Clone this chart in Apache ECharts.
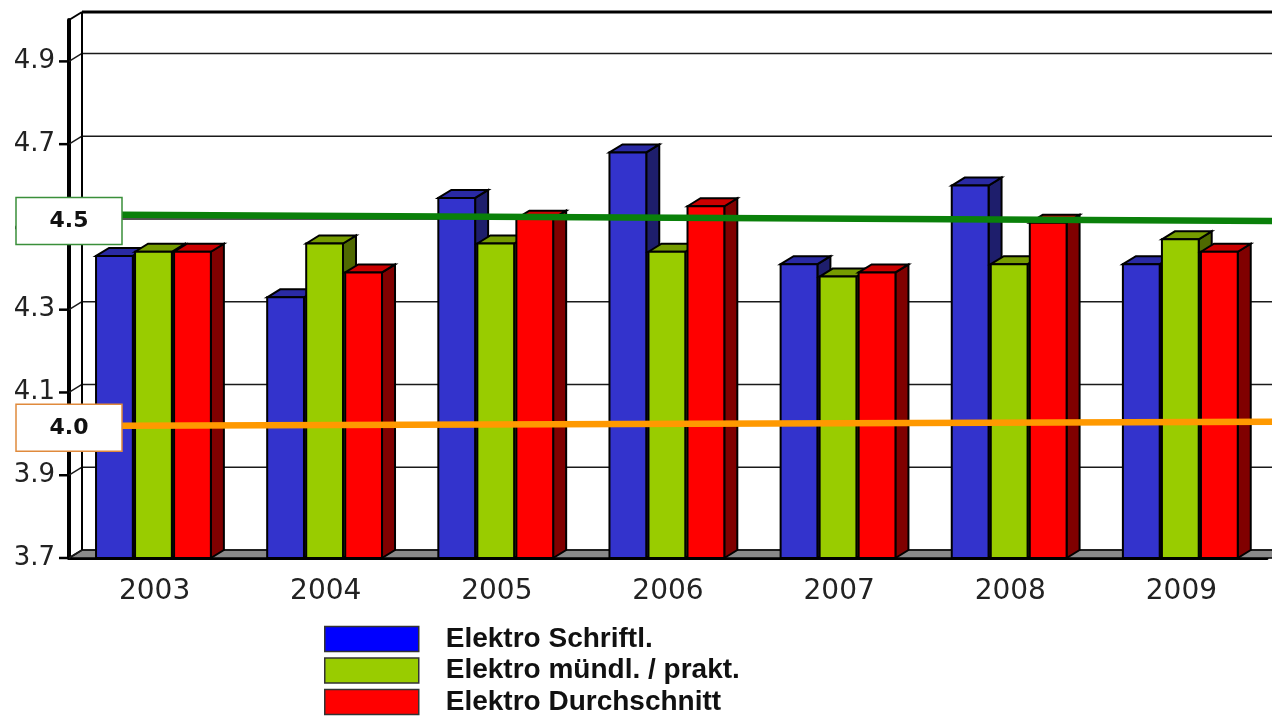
<!DOCTYPE html>
<html>
<head>
<meta charset="utf-8">
<script src="https://cdn.jsdelivr.net/npm/echarts@6/dist/echarts.min.js"></script>
<style>
html,body{margin:0;padding:0;background:#fff}
#chart{width:1272px;height:720px}
</style>
</head>
<body>
<div id="chart"></div>
<script>
// values
var years = ['2003', '2004', '2005', '2006', '2007', '2008', '2009'];
var schriftl = [4.43, 4.33, 4.57, 4.68, 4.41, 4.60, 4.41];
var muendl = [4.44, 4.46, 4.46, 4.44, 4.38, 4.41, 4.47];
var schnitt = [4.44, 4.39, 4.52, 4.55, 4.39, 4.51, 4.44];
var seriesNames = ['Elektro Schriftl.', 'Elektro mündl. / prakt.', 'Elektro Durchschnitt'];
var yTicks = [3.7, 3.9, 4.1, 4.3, 4.5, 4.7, 4.9];
var yMin = 3.7, yMax = 5.0;

// the two hand drawn target lines (start / end value, left to right)
var refLabels = ['4.5', '4.0'];
var refValues = [4.5, 4.0];
var refStart = [4.51, 4.00];
var refEnd = [4.495, 4.01];

var DX = 13, DY = -8;   // 3d depth offset
var faces = [
  {front: '#3333cc', top: '#2a2aa4', side: '#1e1e6c', legend: '#0000ff'},
  {front: '#99cc00', top: '#769c00', side: '#4f6900', legend: '#99cc00'},
  {front: '#ff0000', top: '#cc0000', side: '#800000', legend: '#ff0000'}
];
var refColors = [
  {line: '#0a800a', border: '#3a8f3a'},
  {line: '#ff9900', border: '#e08a3c'}
];

function renderWalls(params, api){
  var cs = params.coordSys;
  var gl = cs.x, gr = cs.x + cs.width;
  var yBase = api.coord([0, yMin])[1];
  var yTop = api.coord([0, yMax])[1];
  var kids = [];
  kids.push({type: 'polygon', shape: {points: [[gl, yBase], [gl + DX, yBase + DY], [gr + DX + 20, yBase + DY], [gr + 20, yBase]]},
    style: {fill: '#8a8a8a', stroke: '#000', lineWidth: 1.5}});
  for(var i = 0; i < yTicks.length; i++){
    var y = api.coord([0, yTicks[i]])[1];
    kids.push({type: 'line', shape: {x1: gl + DX, y1: y + DY, x2: gr + DX + 20, y2: y + DY}, style: {stroke: '#1a1a1a', lineWidth: 1.5}});
    kids.push({type: 'line', shape: {x1: gl, y1: y, x2: gl + DX, y2: y + DY}, style: {stroke: '#1a1a1a', lineWidth: 1.5}});
    kids.push({type: 'line', shape: {x1: gl - 10, y1: y, x2: gl, y2: y}, style: {stroke: '#000', lineWidth: 2.5}});
  }
  // top edge and back left edge of the wall
  kids.push({type: 'line', shape: {x1: gl + DX, y1: yTop + DY, x2: gr + DX + 20, y2: yTop + DY}, style: {stroke: '#000', lineWidth: 3}});
  kids.push({type: 'line', shape: {x1: gl, y1: yTop, x2: gl + DX, y2: yTop + DY}, style: {stroke: '#000', lineWidth: 2}});
  kids.push({type: 'line', shape: {x1: gl + DX, y1: yTop + DY, x2: gl + DX, y2: yBase + DY}, style: {stroke: '#000', lineWidth: 2}});
  return {type: 'group', children: kids};
}

function makeBarRender(si){
  return function(params, api){
    var ci = api.value(0), v = api.value(1);
    var base = api.coord([ci, yMin]);
    var top = api.coord([ci, v]);
    var band = api.size([1, 0])[0];
    var w = band * 0.215;
    var x0 = base[0] - band / 2 + band * (0.158 + si * 0.228);
    var yT = top[1], yB = base[1];
    var c = faces[si];
    var st = {stroke: '#000', lineWidth: 2, lineJoin: 'miter'};
    return {type: 'group', children: [
      {type: 'polygon', shape: {points: [[x0 + w, yT], [x0 + w + DX, yT + DY], [x0 + w + DX, yB + DY], [x0 + w, yB]]},
        style: Object.assign({fill: c.side}, st)},
      {type: 'polygon', shape: {points: [[x0, yT], [x0 + DX, yT + DY], [x0 + w + DX, yT + DY], [x0 + w, yT]]},
        style: Object.assign({fill: c.top}, st)},
      {type: 'rect', shape: {x: x0, y: yT, width: w, height: yB - yT},
        style: Object.assign({fill: c.front}, st)}
    ]};
  };
}

function renderRefs(params, api){
  var i = api.value(0);
  var cs = params.coordSys;
  var c = refColors[i];
  var y1 = api.coord([0, refStart[i]])[1] + DY;
  var y2 = api.coord([0, refEnd[i]])[1] + DY;
  var yb = api.coord([0, refValues[i]])[1] + DY + 2;
  var bw = 106, bh = 47;
  return {type: 'group', children: [
    {type: 'line', shape: {x1: cs.x + bw / 2, y1: y1, x2: cs.x + cs.width + DX, y2: y2}, style: {stroke: c.line, lineWidth: 6.5}},
    {type: 'rect', shape: {x: cs.x - bw / 2, y: yb - bh / 2, width: bw, height: bh}, style: {fill: '#fff', stroke: c.border, lineWidth: 1.5}},
    {type: 'text', style: {text: refLabels[i], x: cs.x, y: yb, align: 'center', verticalAlign: 'middle',
      fontFamily: 'DejaVu Sans', fontWeight: 'bold', fontSize: 22, fill: '#111'}}
  ]};
}

function pairs(arr){
  return arr.map(function(v, i){ return [i, v]; });
}

var myChart = echarts.init(document.getElementById('chart'));
var series = [{
  type: 'custom', name: 'walls', silent: true, clip: false,
  renderItem: renderWalls, data: [[0, yMin]], encode: {x: 0, y: 1}
}];
[schriftl, muendl, schnitt].forEach(function(vals, si){
  series.push({
    type: 'custom', name: seriesNames[si], clip: false,
    renderItem: makeBarRender(si), data: pairs(vals), encode: {x: 0, y: 1},
    itemStyle: {color: faces[si].legend}
  });
});
series.push({
  type: 'custom', name: 'refs', silent: true, clip: false,
  renderItem: renderRefs, data: pairs(refValues), encode: {x: 0, y: 1}
});

var option = {
  animation: false,
  backgroundColor: '#fff',
  grid: {left: 69, right: 5, top: 20, bottom: 162, outerBoundsMode: 'none'},
  xAxis: {
    type: 'category', data: years,
    axisLine: {lineStyle: {color: '#000', width: 3}},
    axisTick: {length: 10, lineStyle: {color: '#000', width: 3}},
    axisLabel: {fontFamily: 'DejaVu Sans', fontSize: 28, color: '#222', margin: 20, lineHeight: 28},
    splitLine: {show: false}
  },
  yAxis: {
    type: 'value', min: yMin, max: yMax, interval: 0.1,
    axisLine: {show: true, lineStyle: {color: '#000', width: 4}},
    axisTick: {show: false},
    splitLine: {show: false},
    axisLabel: {
      fontFamily: 'DejaVu Sans', fontSize: 26, color: '#222', margin: 14,
      formatter: function(v){
        for(var i = 0; i < yTicks.length; i++){
          if(Math.abs(v - yTicks[i]) < 1e-6) return yTicks[i].toFixed(1);
        }
        return '';
      }
    }
  },
  legend: {
    orient: 'vertical', left: 324, top: 625, padding: 0,
    itemWidth: 94, itemHeight: 25, itemGap: 3.5, selectedMode: false,
    textStyle: {fontFamily: 'Liberation Sans', fontWeight: 'bold', fontSize: 28, lineHeight: 28, color: '#111', padding: [0, 0, 0, 22]},
    data: seriesNames.map(function(n, i){
      return {name: n, icon: 'rect', itemStyle: {color: faces[i].legend, borderColor: '#333', borderWidth: 1.5}};
    })
  },
  series: series
};
myChart.setOption(option);
</script>
</body>
</html>
